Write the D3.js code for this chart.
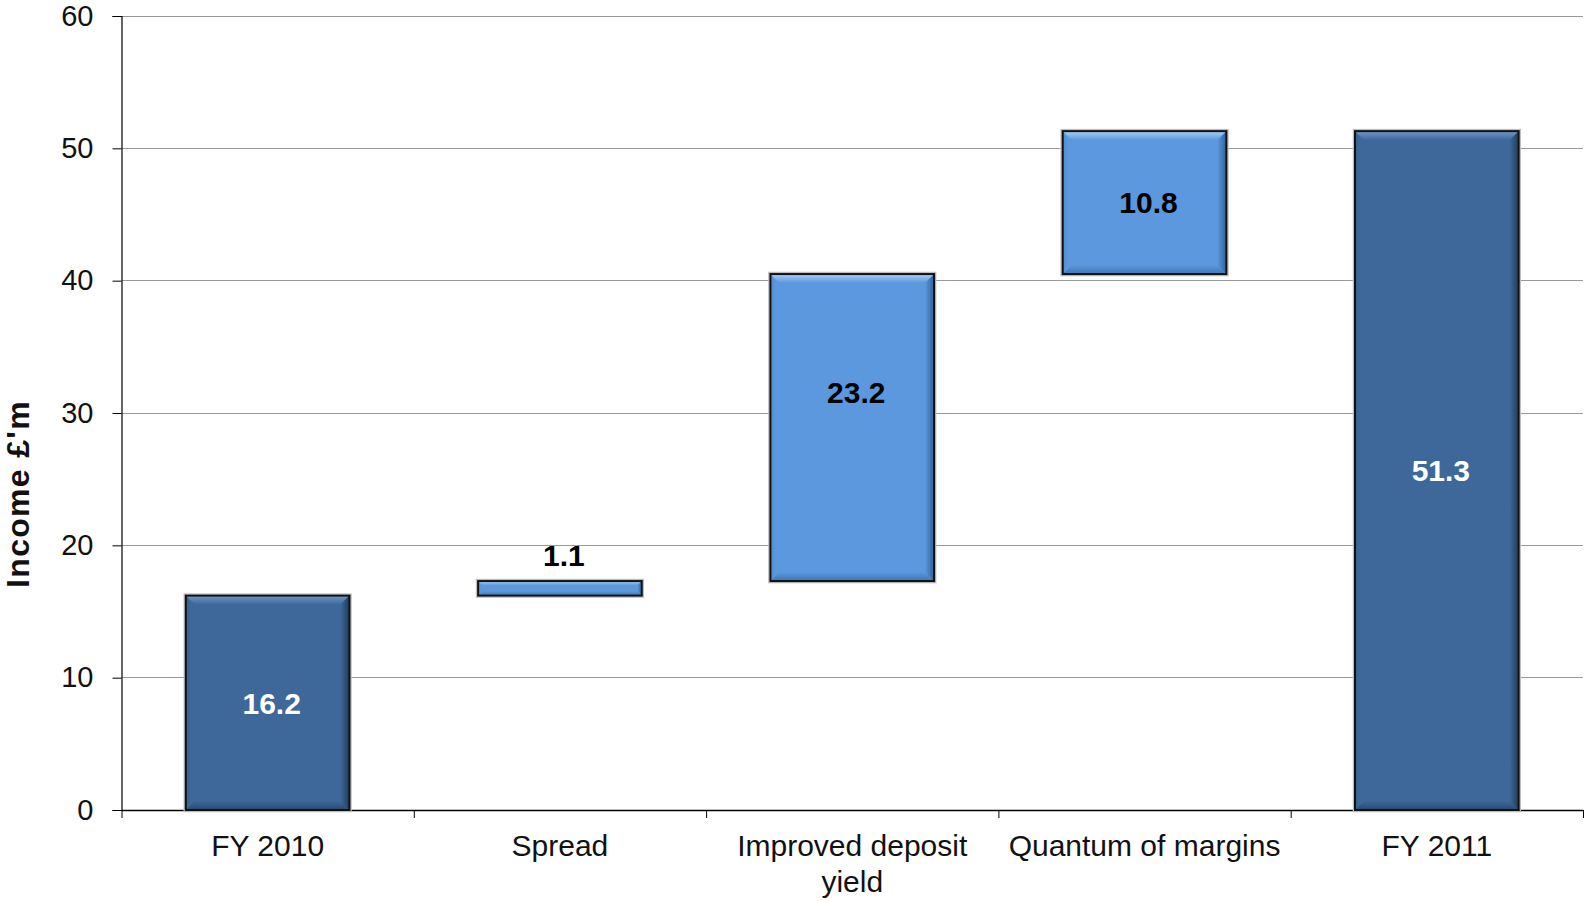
<!DOCTYPE html>
<html>
<head>
<meta charset="utf-8">
<script src="https://cdn.jsdelivr.net/npm/d3@7"></script>
<style>
  html, body { margin: 0; padding: 0; background: #fff; }
  svg { display: block; font-family: "Liberation Sans", Arial, sans-serif; }
</style>
</head>
<body>
<svg id="chart" width="1585" height="901"></svg>
<script>
// Income bridge FY 2010 -> FY 2011 (£m)
const categories = ["FY 2010", "Spread", "Improved deposit yield", "Quantum of margins", "FY 2011"];
const categoryLines = [["FY 2010"], ["Spread"], ["Improved deposit", "yield"], ["Quantum of margins"], ["FY 2011"]];
const values = [16.2, 1.1, 23.2, 10.8, 51.3];
const kinds = ["total", "step", "step", "step", "total"];
const yTicks = [0, 10, 20, 30, 40, 50, 60];
const yTitle = "Income £'m";

const svg = d3.select("#chart");
const margin = { left: 121.5, right: 2, top: 16, bottom: 91 };
const W = 1585, H = 901;
const x0 = margin.left, x1 = W - margin.right;
const y0 = H - margin.bottom, y1 = margin.top;

const x = d3.scaleBand().domain(categories).range([x0, x1]).paddingInner(0.44).paddingOuter(0.22);
const y = d3.scaleLinear().domain([0, 60]).range([y0, y1]);

// running totals for the waterfall segments
let run = 0;
const bars = categories.map((c, i) => {
  let lo, hi;
  if (kinds[i] === "total") { lo = 0; hi = values[i]; run = values[i]; }
  else { lo = run; hi = run + values[i]; run = hi; }
  return { cat: c, value: values[i], kind: kinds[i], lo, hi, lines: categoryLines[i] };
});

// gradients for the bevelled bars
const defs = svg.append("defs");
const palettes = {
  total: { fill: "#3D6899", light: "#7099CB", dark: "#1F3B59", bottom: "#29496F", left: "#35608F" },
  step:  { fill: "#5B98DE", light: "#A8CFF7", dark: "#30609A", bottom: "#4174B4", left: "#518BCE" }
};
Object.entries(palettes).forEach(([k, p]) => {
  const mk = (id, x1, y1, x2, y2, c1, c2) => {
    const g = defs.append("linearGradient").attr("id", id)
      .attr("x1", x1).attr("y1", y1).attr("x2", x2).attr("y2", y2);
    g.append("stop").attr("offset", "0%").attr("stop-color", c1);
    g.append("stop").attr("offset", "100%").attr("stop-color", c2);
  };
  mk(`top-${k}`, 0, 0, 0, 1, p.light, p.fill);
  mk(`right-${k}`, 0, 0, 1, 0, p.fill, p.dark);
  mk(`bottom-${k}`, 0, 0, 0, 1, p.fill, p.bottom);
  mk(`left-${k}`, 0, 0, 1, 0, p.left, p.fill);
});

// gridlines
svg.append("g")
  .selectAll("line")
  .data(yTicks.filter(d => d > 0))
  .join("line")
  .attr("x1", x0).attr("x2", x1)
  .attr("y1", d => y(d)).attr("y2", d => y(d))
  .attr("stroke", "#9A9A9A").attr("stroke-width", 1)
  .attr("shape-rendering", "crispEdges");

// y axis
const yAxis = svg.append("g")
  .attr("transform", `translate(${x0},0)`)
  .call(d3.axisLeft(y).tickValues(yTicks).tickSize(9).tickPadding(19).tickFormat(d3.format("d")));
yAxis.select(".domain").attr("stroke", "#000").attr("stroke-width", 1.2);
yAxis.selectAll(".tick line").attr("stroke", "#000");
yAxis.selectAll(".tick text").attr("font-size", 29).attr("fill", "#111")
  .attr("font-family", "Liberation Sans, Arial, sans-serif");

// x axis: boundary ticks between categories
const xb = d3.scaleLinear().domain([0, categories.length]).range([x0, x1]);
const xAxis = svg.append("g")
  .attr("transform", `translate(0,${y0})`)
  .call(d3.axisBottom(xb).tickValues(d3.range(categories.length + 1)).tickSize(8).tickSizeOuter(0).tickFormat(""));
xAxis.select(".domain").attr("stroke", "#000").attr("stroke-width", 1.5);
xAxis.selectAll(".tick line").attr("stroke", "#000");

// category labels
const catG = svg.append("g").attr("font-size", 30).attr("fill", "#111").attr("text-anchor", "middle");
bars.forEach(b => {
  const t = catG.append("text").attr("x", x(b.cat) + x.bandwidth() / 2).attr("y", y0 + 46);
  b.lines.forEach((ln, i) => t.append("tspan").attr("x", x(b.cat) + x.bandwidth() / 2).attr("dy", i === 0 ? 0 : 36).text(ln));
});

// bars with bevel
const barG = svg.append("g");
bars.forEach(b => {
  const bx = x(b.cat), bw = x.bandwidth();
  const top = y(b.hi), bot = y(b.lo), bh = bot - top;
  const k = b.kind;
  const bev = Math.min(9, bh * 0.3);
  const g = barG.append("g");
  // soft outline
  g.append("rect").attr("x", bx - 1.5).attr("y", top - 1.5).attr("width", bw + 3).attr("height", bh + 3)
    .attr("fill", "none").attr("stroke", "#BDBDBD").attr("stroke-width", 1.5);
  g.append("rect").attr("x", bx).attr("y", top).attr("width", bw).attr("height", bh)
    .attr("fill", palettes[k].fill);
  const L = bx, R = bx + bw, T = top, B = bot;
  const poly = (pts, fill) => g.append("polygon").attr("points", pts.map(p => p.join(",")).join(" ")).attr("fill", fill);
  poly([[L, T], [R, T], [R - bev, T + bev], [L + bev, T + bev]], `url(#top-${k})`);
  poly([[L, B], [R, B], [R - bev, B - bev], [L + bev, B - bev]], `url(#bottom-${k})`);
  poly([[L, T], [L + bev * 0.6, T + bev], [L + bev * 0.6, B - bev], [L, B]], `url(#left-${k})`);
  poly([[R, T], [R - bev, T + bev], [R - bev, B - bev], [R, B]], `url(#right-${k})`);
  g.append("rect").attr("x", bx).attr("y", top).attr("width", bw).attr("height", bh)
    .attr("fill", "none").attr("stroke", "#111").attr("stroke-width", 2);
});

// value labels
const labelShift = { "Improved deposit yield": -35 };
svg.append("g").attr("font-size", 30).attr("font-weight", "bold").attr("text-anchor", "middle")
  .selectAll("text").data(bars).join("text")
  .attr("x", d => x(d.cat) + x.bandwidth() / 2 + 4)
  .attr("y", d => {
    const h = y(d.lo) - y(d.hi);
    if (h < 40) return y(d.hi) - 26;
    return (y(d.lo) + y(d.hi)) / 2 + (labelShift[d.cat] || 0);
  })
  .attr("dy", "0.36em")
  .attr("fill", d => d.kind === "total" ? "#fff" : "#000")
  .text(d => d3.format(".1f")(d.value));

// y axis title
svg.append("text")
  .attr("transform", `translate(${17},${(y0 + y1) / 2 + 81}) rotate(-90)`)
  .attr("text-anchor", "middle").attr("dy", "0.36em")
  .attr("font-size", 32).attr("font-weight", "bold").attr("letter-spacing", 1.3).attr("fill", "#111")
  .text(yTitle);
</script>
</body>
</html>
